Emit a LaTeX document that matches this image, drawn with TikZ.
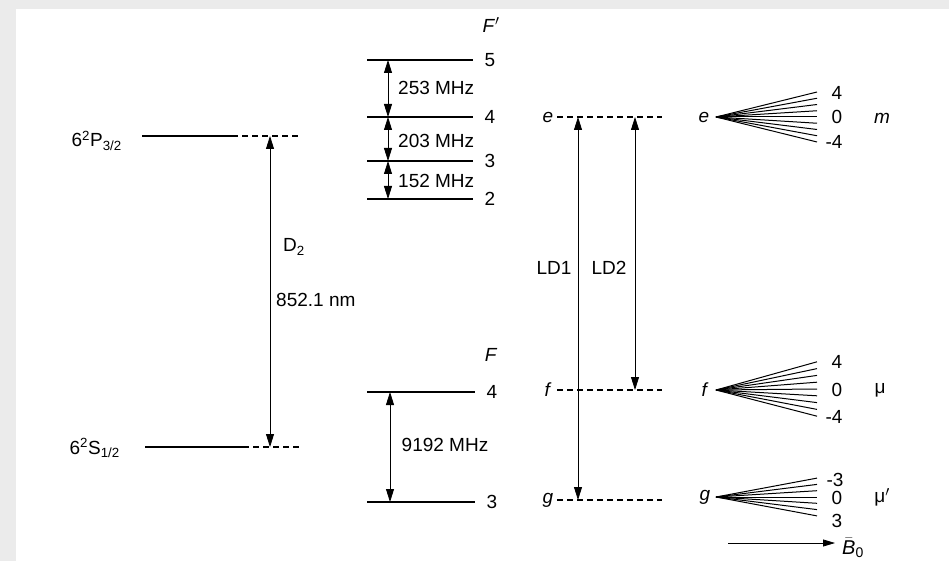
\documentclass[tikz,border=0pt]{standalone}
\usepackage{fontspec}
\setmainfont{Liberation Sans}
\usetikzlibrary{arrows.meta,positioning,calc}
\definecolor{framegray}{RGB}{235,235,235}

\begin{document}
\begin{tikzpicture}[
    x=1pt, y=-1pt,
    lbl/.style={font=\fontsize{19}{22}\selectfont, inner sep=0pt},
    level/.style={line width=2pt},
    dlevel/.style={line width=1.6pt, dash pattern=on 6pt off 4pt},
    trans/.style={line width=0.8pt, {Triangle[length=13pt,width=8pt]}-{Triangle[length=13pt,width=8pt]}},
    fanline/.style={line width=1pt}
]
% frame of the scanned page
\fill[framegray] (0,0) rectangle (949,561);
\fill[white] (16,9) rectangle (949,561);
\useasboundingbox (0,0) rectangle (949,561);

% fine structure
\coordinate (P1) at (142,136); \coordinate (P2) at (232,136); \coordinate (P3) at (300,136);
\coordinate (S1) at (145,447); \coordinate (S2) at (243,447); \coordinate (S3) at (300,447);
\draw[level] (P1) -- (P2);
\draw[dlevel] (P2) -- (P3);
\draw[level] (S1) -- (S2);
\draw[dlevel] (S2) -- (S3);
\node[lbl, anchor=base east] (Plbl) at (122,147) {6\textsuperscript{2}P\textsubscript{3/2}};
\node[lbl, anchor=base east] (Slbl) at (120,454) {6\textsuperscript{2}S\textsubscript{1/2}};
\coordinate (D2top) at (270,136); \coordinate (D2bot) at (270,447);
\draw[trans] (D2bot) -- (D2top);
\node[lbl] (D2lbl) at (294,247) {D\textsubscript{2}};
\node[lbl, anchor=west] (lambda) at (276,300) {852.1 nm};

% hyperfine levels of the excited state
\node[lbl] (Fp) at (491,25) {\textit{F}$'$};
\foreach \F/\y/\w in {5/60/2.6,4/117/1.6,3/161/1.6,2/199/1.4} {
  \coordinate (u\F a) at (367,\y);
  \coordinate (u\F b) at (473,\y);
  \coordinate (h\F) at (388,\y);
  \draw[line width=\w pt] (u\F a) -- (u\F b);
  \node[lbl] (uF\F) at (490,\y) {\F};
}
\draw[trans] (h5) -- (h4);
\draw[trans] (h4) -- (h3);
\draw[trans] (h3) -- (h2);
\node[lbl, anchor=west] (s54) at (398,88) {253 MHz};
\node[lbl, anchor=west] (s43) at (398,141) {203 MHz};
\node[lbl, anchor=west] (s32) at (398,181) {152 MHz};

% hyperfine levels of the ground state
\node[lbl] (F) at (491,355) {\textit{F}};
\foreach \F/\y in {4/392,3/502} {
  \coordinate (g\F a) at (367,\y);
  \coordinate (g\F b) at (475,\y);
  \coordinate (k\F) at (390,\y);
  \draw[level] (g\F a) -- (g\F b);
  \node[lbl] (gF\F) at (492,\y) {\F};
}
\draw[trans] (k4) -- (k3);
\node[lbl] (s43g) at (445,445) {9192 MHz};

% levels used by the lasers
\foreach \n/\y in {e/117,f/390,g/500} {
  \node[lbl] (\n lvl) at (548,\y) {\textit{\n}};
  \coordinate (\n a) at (557,\y);
  \coordinate (\n b) at (662,\y);
  \draw[dlevel] (\n a) -- (\n b);
}
\coordinate (LD1e) at (578,117); \coordinate (LD1g) at (578,500);
\coordinate (LD2e) at (635,117); \coordinate (LD2f) at (635,390);
\draw[trans] (LD1g) -- (LD1e);
\draw[trans] (LD2f) -- (LD2e);
\node[lbl] (LD1) at (554,268) {LD1};
\node[lbl] (LD2) at (609,268) {LD2};

% Zeeman sublevels
\node[lbl] (ez) at (704,117) {\textit{e}};
\coordinate (eapex) at (716,117);
\foreach \m in {-4,...,4}
  \draw[fanline] (eapex) -- (817,117-\m*6.25);
\node[lbl] (em4) at (837,93) {4};
\node[lbl] (em0) at (837,117) {0};
\node[lbl] (emm4) at (834,142) {-4};
\node[lbl] (mlbl) at (882,118) {\textit{m}};

\node[lbl] (fz) at (705,390) {\textit{f}};
\coordinate (fapex) at (716,390);
\foreach \m in {-4,...,4}
  \draw[fanline] (fapex) -- (817,389-\m*6.8);
\node[lbl] (fm4) at (837,362) {4};
\node[lbl] (fm0) at (837,390) {0};
\node[lbl] (fmm4) at (834,417) {-4};
\node[lbl] (mulbl) at (880,390) {μ};

\node[lbl] (gz) at (705,497) {\textit{g}};
\coordinate (gapex) at (716,497);
\foreach \m in {-3,...,3}
  \draw[fanline] (gapex) -- (817,497+\m*6.3);
\node[lbl] (gmm3) at (835,480) {-3};
\node[lbl] (gm0) at (837,498) {0};
\node[lbl] (gm3) at (837,521) {3};
\node[lbl] (muplbl) at (882,497) {μ$'$};

% magnetic field
\node[lbl, font=\fontsize{20}{24}\selectfont, anchor=base west] (B0) at (842,554) {$\bar{\mbox{\textit{B}}}$\textsubscript{0}};
\coordinate (Bstart) at (728,543);
\coordinate (Bend) at (835,543);
\draw[line width=0.8pt, -{Triangle[length=12pt,width=7pt]}] (Bstart) -- (Bend);
\end{tikzpicture}
\end{document}
